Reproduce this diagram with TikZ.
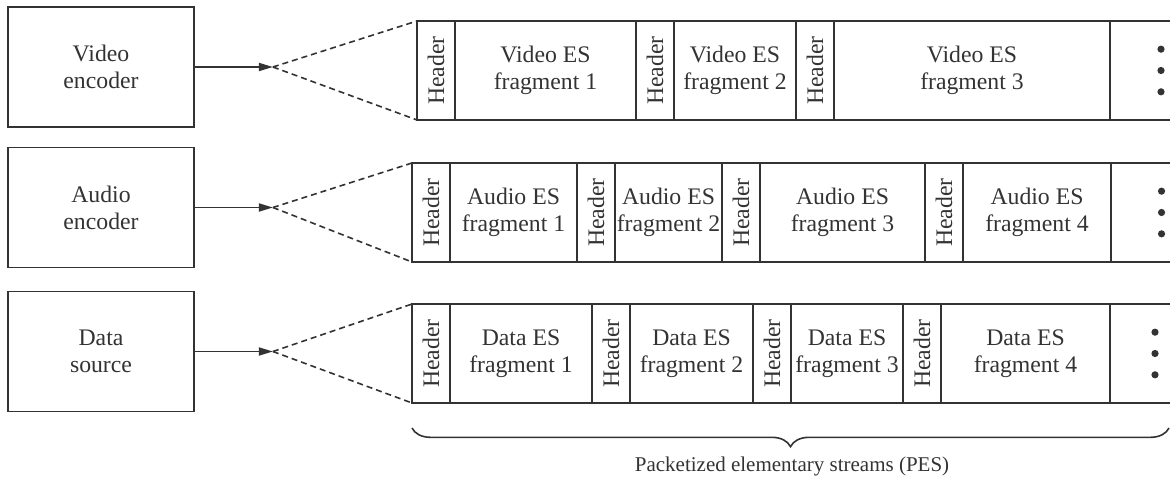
\documentclass[tikz,border=0pt]{standalone}
\usepackage{fontspec}
\setmainfont{Liberation Serif}
\usepackage{graphicx}
\usepackage{tikz}
\usetikzlibrary{arrows.meta, positioning, decorations.pathreplacing}
\definecolor{ink}{HTML}{333333}

\begin{document}
\begin{tikzpicture}[
x=0.75pt, y=-0.75pt,
font=\fontsize{17.8pt}{20.25pt}\selectfont,
src/.style={rectangle, draw=ink, line width=1.35pt, text=ink, align=center, minimum width=139.5pt, minimum height=90pt},
cell/.style={rectangle, draw=ink, line width=1.35pt, text=ink, align=center, inner sep=0pt, outer sep=0pt, minimum height=74.25pt, minimum width=#1},
hdr/.style={cell=28.5pt},
more/.style={cell=45pt, draw=none},
arrow/.style={-{Triangle[length=10.5pt, width=6pt]}, line width=1.35pt, ink},
fanline/.style={dash pattern=on 4.5pt off 3pt, line width=1.2pt, ink},
rim/.style={ink, line width=1.35pt}
]
\useasboundingbox (0,0) rectangle (1170,484);

% video stream
\node[src] (venc) at (101,67) {Video\\encoder};
\node[hdr, anchor=north west] (v1) at (417,21) {\rotatebox{90}{Header}};
\node[cell=135.75pt, right=0pt of v1] (v2) {Video ES\\fragment 1};
\node[hdr, right=0pt of v2] (v3) {\rotatebox{90}{Header}};
\node[cell=91.5pt, right=0pt of v3] (v4) {Video ES\\fragment 2};
\node[hdr, right=0pt of v4] (v5) {\rotatebox{90}{Header}};
\node[cell=207pt, right=0pt of v5] (v6) {Video ES\\fragment 3};
\node[more, right=0pt of v6] (v7) {};

% audio stream
\node[src] (aenc) at (101,207.5) {Audio\\encoder};
\node[hdr, anchor=north west] (a1) at (412,163) {\rotatebox{90}{Header}};
\node[cell=95.25pt, right=0pt of a1] (a2) {Audio ES\\fragment 1};
\node[hdr, right=0pt of a2] (a3) {\rotatebox{90}{Header}};
\node[cell=80.25pt, right=0pt of a3] (a4) {Audio ES\\fragment 2};
\node[hdr, right=0pt of a4] (a5) {\rotatebox{90}{Header}};
\node[cell=123.75pt, right=0pt of a5] (a6) {Audio ES\\fragment 3};
\node[hdr, right=0pt of a6] (a7) {\rotatebox{90}{Header}};
\node[cell=111pt, right=0pt of a7] (a8) {Audio ES\\fragment 4};
\node[more, right=0pt of a8] (a9) {};

% data stream
\node[src] (dsrc) at (101,351.5) {Data\\source};
\node[hdr, anchor=north west] (d1) at (412,304) {\rotatebox{90}{Header}};
\node[cell=106.5pt, right=0pt of d1] (d2) {Data ES\\fragment 1};
\node[hdr, right=0pt of d2] (d3) {\rotatebox{90}{Header}};
\node[cell=92.25pt, right=0pt of d3] (d4) {Data ES\\fragment 2};
\node[hdr, right=0pt of d4] (d5) {\rotatebox{90}{Header}};
\node[cell=84pt, right=0pt of d5] (d6) {Data ES\\fragment 3};
\node[hdr, right=0pt of d6] (d7) {\rotatebox{90}{Header}};
\node[cell=126.75pt, right=0pt of d7] (d8) {Data ES\\fragment 4};
\node[more, right=0pt of d8] (d9) {};

% open ends with dots
\draw[rim] (v7.north west) -- (v7.north east) (v7.south west) -- (v7.south east);
\draw[rim] (a9.north west) -- (a9.north east) (a9.south west) -- (a9.south east);
\draw[rim] (d9.north west) -- (d9.north east) (d9.south west) -- (d9.south east);
\foreach \dy in {-16,0,16} {
  \fill[ink] ([xshift=15.75pt, yshift=\dy pt]v7.center) circle (2.7pt);
  \fill[ink] ([xshift=15.4pt, yshift=\dy pt]a9.center) circle (2.7pt);
  \fill[ink] ([xshift=11.25pt, yshift=\dy pt]d9.center) circle (2.7pt);
}

% arrows into the streams
\coordinate[right=58.5pt of venc] (vtip);
\coordinate[right=58.5pt of aenc] (atip);
\coordinate[right=58.5pt of dsrc] (dtip);
\draw[arrow] (venc) -- (vtip);
\draw[arrow] (aenc) -- (atip);
\draw[arrow] (dsrc) -- (dtip);
\draw[fanline] (vtip) -- (v1.north west);
\draw[fanline] (vtip) -- (v1.south west);
\draw[fanline] (atip) -- (a1.north west);
\draw[fanline] (atip) -- (a1.south west);
\draw[fanline] (dtip) -- (d1.north west);
\draw[fanline] (dtip) -- (d1.south west);

% brace
\draw[rim, line width=1.2pt, decorate, decoration={brace, mirror, amplitude=14pt}] (412,428) -- (1169,428);
\node[text=ink, font=\fontsize{15.75pt}{18pt}\selectfont] (pes) at (792,466) {Packetized elementary streams (PES)};
\end{tikzpicture}
\end{document}
